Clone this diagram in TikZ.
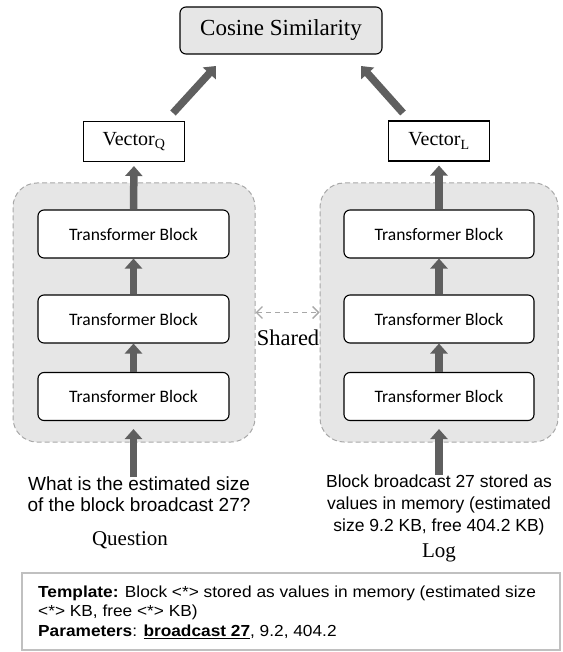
\documentclass[tikz,border=0pt]{standalone}
\usepackage{fontspec}
\setmainfont{Liberation Serif}
\setsansfont{Liberation Sans}
\newfontfamily\calfont{Carlito}
\usetikzlibrary{arrows.meta}
\definecolor{arrgray}{HTML}{5F5F5F}
\definecolor{boxgray}{HTML}{E6E6E6}
\definecolor{dashgray}{HTML}{A8A8A8}
\definecolor{framegray}{HTML}{C0C0C0}
\tikzset{
  fatarrow/.style={draw=arrgray, line width=7.5pt, -{Triangle[width=17pt,length=10pt]}, arrgray},
  container/.style={draw=dashgray, dashed, dash pattern=on 5pt off 3pt, line width=1pt, fill=boxgray, rounded corners=24pt, minimum width=242pt, minimum height=259pt, inner sep=0pt},
  tblock/.style={draw=black, line width=1.1pt, fill=white, rounded corners=6pt, minimum width=191pt, minimum height=48pt, inner sep=0pt, font=\calfont\fontsize{17.5}{20}\selectfont},
  vecbox/.style={draw=black, line width=1.1pt, fill=white, minimum width=101pt, minimum height=40pt, inner sep=0pt, font=\fontsize{20}{24}\selectfont},
  sanstext/.style={font=\sffamily\fontsize{19}{21}\selectfont, align=center, inner sep=0pt, anchor=north},
  serlabel/.style={font=\fontsize{21}{24}\selectfont, inner sep=0pt, anchor=base},
}
\begin{document}
\begin{tikzpicture}[x=1pt,y=-1pt]
\useasboundingbox (0,0) rectangle (562,652);
% top
\node[draw=black, line width=1.1pt, fill=boxgray, rounded corners=6pt, minimum width=202pt, minimum height=47pt, inner sep=0pt, font=\fontsize{23}{26}\selectfont] (cos) at (281,30.5) {Cosine Similarity};
\node[vecbox] (vq) at (134,141.5) {Vector\textsubscript{Q}};
\node[vecbox] (vl) at (439,141) {Vector\textsubscript{L}};
\coordinate (qs) at (173,113);
\coordinate (qt) at (216,66);
\coordinate (ls) at (403,113);
\coordinate (lt) at (361,66);
\draw[fatarrow] (qs) -- (qt);
\draw[fatarrow] (ls) -- (lt);
% containers
\node[container] (lc) at (134,312.5) {};
\node[container, minimum width=238pt] (rc) at (439,312.5) {};
% blocks
\node[tblock] (l1) at (133.5,234) {Transformer Block};
\node[tblock] (l2) at (133.5,319) {Transformer Block};
\node[tblock] (l3) at (133.5,396.5) {Transformer Block};
\node[tblock, minimum width=190pt] (r1) at (439,234) {Transformer Block};
\node[tblock, minimum width=190pt] (r2) at (439,319) {Transformer Block};
\node[tblock, minimum width=190pt] (r3) at (439,396.5) {Transformer Block};
% arrows inside
\draw[fatarrow] (l3.north) -- (l2.south);
\draw[fatarrow] (l2.north) -- (l1.south);
\draw[fatarrow] (r3.north) -- (r2.south);
\draw[fatarrow] (r2.north) -- (r1.south);
\draw[fatarrow, shorten >=4pt] (l1.north) -- (vq.south);
\draw[fatarrow, shorten >=4pt] (r1.north) -- (vl.south);
% shared
\draw[dashgray, line width=1.4pt, dash pattern=on 5pt off 4pt, {Straight Barb[length=6pt,width=12pt]}-{Straight Barb[length=6pt,width=12pt]}] (lc.east) -- (rc.west);
\node[serlabel, font=\fontsize{22.5}{26}\selectfont] (sh) at (288,345) {Shared};
% inputs
\node[sanstext] (qtext) at (139,477) {What is the estimated size\\of the block broadcast 27?};
\node[sanstext, font=\sffamily\fontsize{17.5}{22}\selectfont] (ltext) at (439,475) {Block broadcast 27 stored as\\values in memory (estimated\\size 9.2 KB, free 404.2 KB)};
\draw[fatarrow, shorten >=8pt] (qtext.north -| l3.south) coordinate (qin) -- (l3.south);
\draw[fatarrow, shorten >=8pt] (ltext.north -| r3.south) coordinate (lin) -- (r3.south);
\node[serlabel] (qlab) at (130,545) {Question};
\node[serlabel] (llab) at (439,557) {Log};
% bottom
\node[draw=framegray, line width=1.5pt, minimum width=538pt, minimum height=77pt, inner sep=0pt] (tb) at (291,611.5) {};
\node[anchor=north west, inner sep=0pt] (tt) at (38,583.4) {\scalebox{1.08}[1]{\sffamily\fontsize{16}{19.5}\selectfont\begin{tabular}{@{}l@{}}\textbf{Template:} Block <*> stored as values in memory (estimated size\\<*> KB, free <*> KB)\\\textbf{Parameters}: \textbf{\underline{broadcast 27}}, 9.2, 404.2\end{tabular}}};
\end{tikzpicture}
\end{document}
